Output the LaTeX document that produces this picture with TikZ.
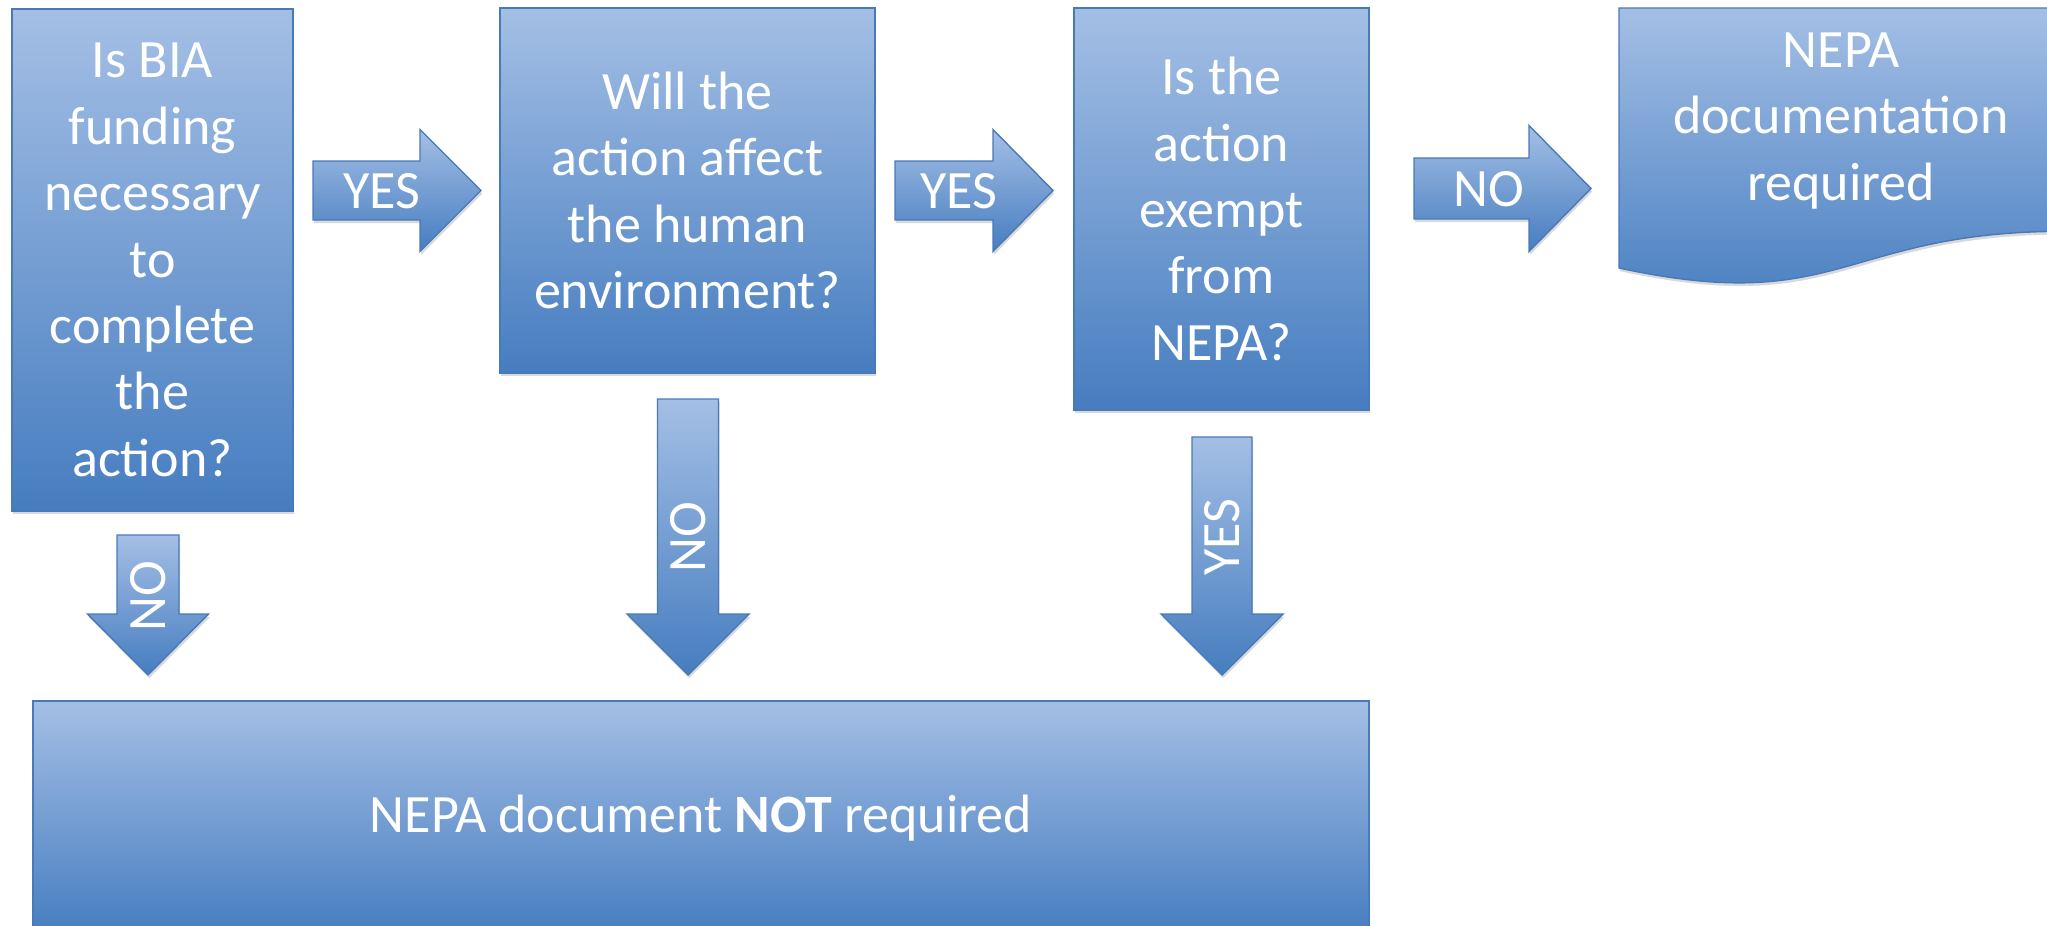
\documentclass[tikz,border=0pt]{standalone}
\usepackage{fontspec}
\setmainfont{Carlito}
\definecolor{nepatop}{RGB}{164,191,229}
\definecolor{nepabot}{RGB}{70,125,192}
\definecolor{nepaline}{RGB}{72,122,185}
\usepackage{tikz}
\usetikzlibrary{shadows}

\tikzset{
  flowfill/.style={top color=nepatop, bottom color=nepabot, draw=nepaline, line width=0.7pt,
    drop shadow={shadow xshift=0.6pt, shadow yshift=-1.6pt, opacity=0.3}},
  qbox/.style={flowfill, rectangle, inner sep=0pt, align=center, text=white},
  lbl/.style={text=white, inner sep=0pt},
}

\begin{document}
\begin{tikzpicture}[x=0.5pt, y=-0.5pt, every node/.style={font=\fontsize{27}{33.2}\selectfont}]
      \useasboundingbox (0,0) rectangle (2047,926);
      % question boxes
      \node[qbox, minimum width=140.5pt, minimum height=251pt] (fund) at (152.5,260) {Is BIA\\funding\\necessary\\to\\complete\\the\\action?};
      \node[qbox, minimum width=187.5pt, minimum height=182.5pt] (human) at (687.5,190.5) {Will the\\action affect\\the human\\environment?};
      \node[qbox, minimum width=147.5pt, minimum height=201pt] (exempt) at (1221.5,209) {Is the\\action\\exempt\\from\\NEPA?};
      \node[qbox, minimum width=668pt, minimum height=117pt] (notreq) at (701,818) {NEPA document \textbf{NOT} required};
      % document shape
      \path[flowfill] (1619,8) -- (2065,8) -- (2065,231.3) .. controls (1842,231.3) and (1842,316.3) .. (1619,268) -- cycle;
      \node[lbl, align=center] (docreq) at (1841,121) {NEPA\\documentation\\required};
      % block arrows
      \foreach \xs/\xb/\xt/\ym/\sh/\hh in {313/420/481/190.5/29.5/61, 895/993/1053/190.5/29.5/61, 1414/1529/1591/188.5/30.5/63}
        \path[flowfill] (\xs,\ym-\sh) -- (\xb,\ym-\sh) -- (\xb,\ym-\hh) -- (\xt,\ym) -- (\xb,\ym+\hh) -- (\xb,\ym+\sh) -- (\xs,\ym+\sh) -- cycle;
      \foreach \xm/\ys/\yb/\yt/\sh/\hh in {148/535/614/675/31/60.5, 688/399/614/675/30.5/61, 1222/437/614/675/30/61}
        \path[flowfill] (\xm-\sh,\ys) -- (\xm+\sh,\ys) -- (\xm+\sh,\yb) -- (\xm+\hh,\yb) -- (\xm,\yt) -- (\xm-\hh,\yb) -- (\xm-\sh,\yb) -- cycle;
      \node[lbl] (yesfund) at (382,191) {YES};
      \node[lbl] (yeshuman) at (959,191) {YES};
      \node[lbl] (noexempt) at (1489,189) {NO};
      \node[lbl, rotate=90] (nofund) at (148,596) {NO};
      \node[lbl, rotate=90] (nohuman) at (688,537) {NO};
      \node[lbl, rotate=90] (yesexempt) at (1222,537) {YES};
    \end{tikzpicture}
\end{document}
